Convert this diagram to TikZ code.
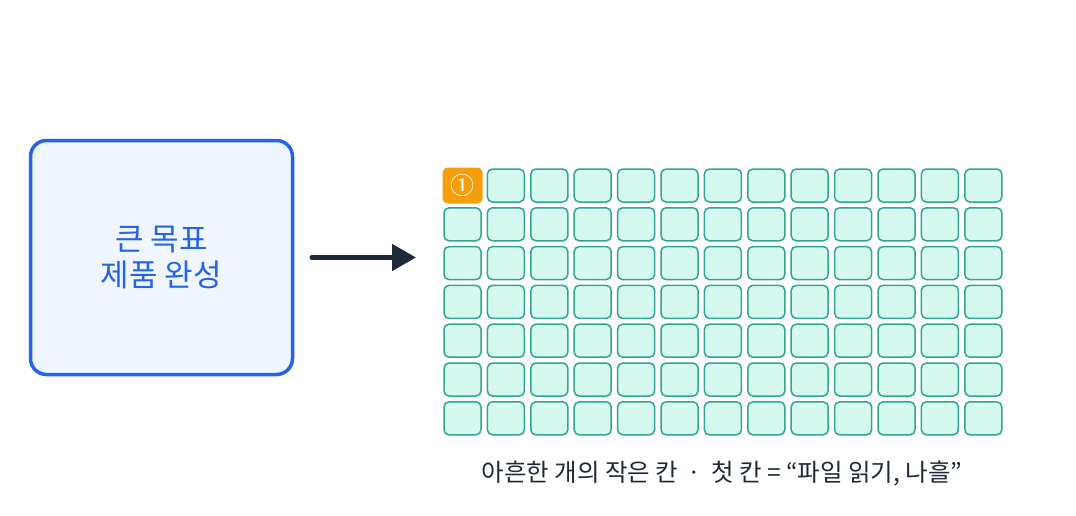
\documentclass[tikz,border=0pt]{standalone}
\usepackage{fontspec}
\setmainfont{Noto Sans CJK KR}
\newfontfamily\symf{DejaVu Sans}
\usetikzlibrary{arrows.meta}
\definecolor{bluebd}{HTML}{2563EB}
\definecolor{bluefill}{HTML}{EFF6FF}
\definecolor{mint}{HTML}{D5F8EF}
\definecolor{mintbd}{HTML}{2FA596}
\definecolor{orng}{HTML}{F59E0B}
\definecolor{dark}{HTML}{1F2937}
\begin{document}
\begin{tikzpicture}[x=1pt,y=-1pt,
  cell/.style={draw=mintbd,fill=mint,line width=1.5pt,rounded corners=5pt,minimum width=37pt,minimum height=33pt,inner sep=0pt},
  first/.style={fill=orng,rounded corners=5pt,minimum width=40pt,minimum height=36pt,inner sep=0pt,text=white,font=\fontsize{24}{24}\selectfont},
  goal/.style={draw=bluebd,fill=bluefill,line width=3.5pt,rounded corners=16pt,minimum width=262pt,minimum height=234pt,align=center,text=bluebd,font=\fontsize{31}{36}\selectfont}]
\useasboundingbox (0,0) rectangle (1076,515);
\node[goal] (g) at (161.5,257.5) {큰 목표\\제품 완성};
\foreach \r in {0,...,6}{
  \foreach \c in {0,...,12}{
    \pgfmathsetmacro\xx{462.5+43.4*\c}
    \pgfmathsetmacro\yy{185.5+38.8*\r}
    \ifnum\r=0 \ifnum\c=0
      \node[first] (c\r-\c) at (\xx,\yy) {①};
    \else
      \node[cell] (c\r-\c) at (\xx,\yy) {};
    \fi\else
      \node[cell] (c\r-\c) at (\xx,\yy) {};
    \fi
  }
}
\coordinate (a1) at (312,257.5);
\coordinate (a2) at (416,257.5);
\draw[dark,line width=5pt,line cap=round,-{Triangle[length=24pt,width=26pt]}] (a1) -- (a2);
\node[text=dark,font=\fontsize{24.5}{28}\selectfont] (cap) at (722,474) {아흔한 개의 작은 칸 \,·\, 첫 칸 = “파일 읽기, 나흘”};
\end{tikzpicture}
\end{document}
